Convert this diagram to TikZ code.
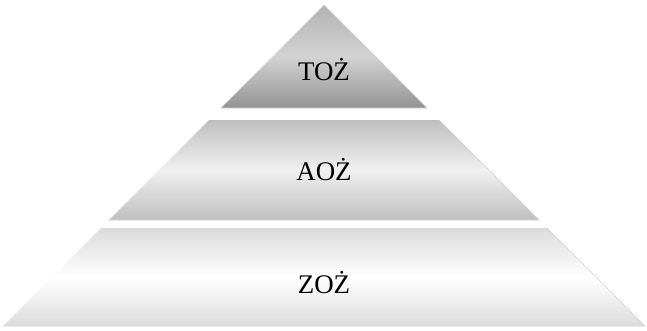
\documentclass[tikz,border=0pt]{standalone}
\usepackage{fontspec}
\setmainfont{Liberation Serif}

\begin{document}
\begin{tikzpicture}[yscale=-1,x=1bp,y=1bp]

  \useasboundingbox (0,0) rectangle (647,330);

  % --- Spitze (TOZ) ---
  \shade[top color=gray!60,bottom color=gray!85,middle color=gray!35]
    (324,5) -- (427,108) -- (221,108) -- cycle;
  \draw[line width=0.6bp,gray!35] (324,5) -- (427,108) -- (221,108);

  % --- Mittelteil (AOZ) ---
  \shade[top color=gray!50,bottom color=gray!50,middle color=gray!12]
    (209,120) -- (439,120) -- (539,220) -- (109,220) -- cycle;
  \draw[line width=0.6bp,gray!35] (439,120) -- (539,220) -- (109,220);

  % --- Basis (ZOZ) ---
  \shade[top color=gray!28,bottom color=gray!28,middle color=white]
    (101,228) -- (547,228) -- (645,326) -- (3,326) -- cycle;
  \draw[line width=0.6bp,gray!35] (547,228) -- (645,326) -- (3,326);

  % --- Beschriftung ---
  \node[font=\fontsize{27}{32}\selectfont] (toz) at (324,70) {TOŻ};
  \node[font=\fontsize{27}{32}\selectfont] (aoz) at (324,170) {AOŻ};
  \node[font=\fontsize{27}{32}\selectfont] (zoz) at (324,283) {ZOŻ};

\end{tikzpicture}
\end{document}
